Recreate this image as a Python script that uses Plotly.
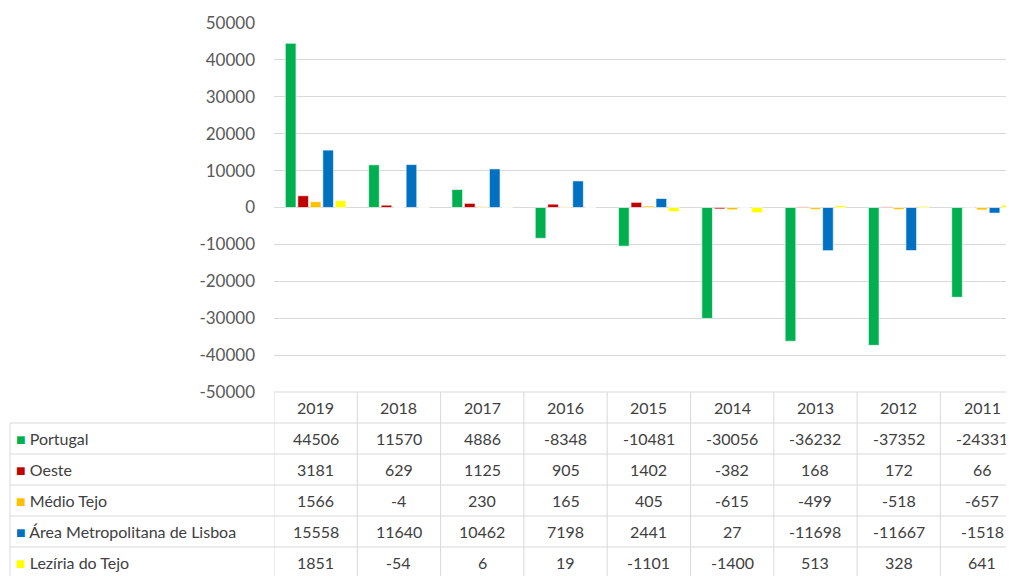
import plotly.graph_objects as go

years = ['2019', '2018', '2017', '2016', '2015', '2014', '2013', '2012', '2011']
series_names = ['Portugal', 'Oeste', 'Médio Tejo', 'Área Metropolitana de Lisboa', 'Lezíria do Tejo']
portugal = [44506, 11570, 4886, -8348, -10481, -30056, -36232, -37352, -24331]
oeste = [3181, 629, 1125, 905, 1402, -382, 168, 172, 66]
medio_tejo = [1566, -4, 230, 165, 405, -615, -499, -518, -657]
aml = [15558, 11640, 10462, 7198, 2441, 27, -11698, -11667, -1518]
leziria = [1851, -54, 6, 19, -1101, -1400, 513, 328, 641]
colors = ['#00B050', '#C00000', '#FFC000', '#0070C0', '#FFFF00']
y_ticks = [50000, 40000, 30000, 20000, 10000, 0, -10000, -20000, -30000, -40000, -50000]

all_series = [portugal, oeste, medio_tejo, aml, leziria]

W, H = 1006, 568      # visible area after the page's 8px body margin
OFF = 8
col_w = 83.3
x_left = 274 - OFF

def py(page_px):
    return 1 - (page_px - OFF) / H

def pxx(page_px):
    return (page_px - OFF) / W

fig = go.Figure()
for name, vals, c in zip(series_names, all_series, colors):
    fig.add_trace(go.Bar(x=list(range(len(years))), y=vals, name=name,
                         marker=dict(color=c, line=dict(color='white', width=0.6))))

font_fam = 'Lato, Liberation Sans, sans-serif'
text_col = '#404040'
line_col = '#D9D9D9'

shapes = []
annotations = []
header_top = 392
row_tops = [423, 454, 485, 516, 547]
row_h = 31
bottom = 580

shapes.append(dict(type='line', xref='paper', yref='paper', x0=pxx(274), x1=1,
                   y0=py(header_top), y1=py(header_top), line=dict(color=line_col, width=1)))
for rt in row_tops:
    shapes.append(dict(type='line', xref='paper', yref='paper', x0=pxx(10), x1=1,
                       y0=py(rt), y1=py(rt), line=dict(color=line_col, width=1)))
shapes.append(dict(type='line', xref='paper', yref='paper', x0=pxx(10), x1=pxx(10),
                   y0=py(row_tops[0]), y1=py(bottom), line=dict(color=line_col, width=1)))
for j in range(len(years) + 1):
    xv = j - 0.5
    shapes.append(dict(type='line', xref='x', yref='paper', x0=xv, x1=xv,
                       y0=py(header_top), y1=py(bottom), line=dict(color=line_col, width=1)))

for j, yr in enumerate(years):
    annotations.append(dict(x=j, y=py(header_top + row_h / 2), xref='x', yref='paper',
                            text=yr, showarrow=False, xanchor='center', yanchor='middle',
                            font=dict(family=font_fam, size=16, color=text_col)))
for i, (name, vals, c) in enumerate(zip(series_names, all_series, colors)):
    yc = py(row_tops[i] + row_h / 2)
    annotations.append(dict(x=pxx(14), y=yc, xref='paper', yref='paper',
                            text=f"<span style='color:{c}'>■</span> {name}",
                            showarrow=False, xanchor='left', yanchor='middle',
                            font=dict(family=font_fam, size=16, color=text_col)))
    for j, v in enumerate(vals):
        annotations.append(dict(x=j, y=yc, xref='x', yref='paper', text=str(v),
                                showarrow=False, xanchor='center', yanchor='middle',
                                font=dict(family=font_fam, size=16, color=text_col)))

fig.update_layout(
    template='none',
    width=W, height=H,
    margin=dict(l=0, r=0, t=0, b=0, autoexpand=False),
    paper_bgcolor='white', plot_bgcolor='white',
    barmode='group', bargap=0.25, bargroupgap=0.15,
    showlegend=False,
    shapes=shapes, annotations=annotations,
    xaxis=dict(domain=[pxx(274), 1], range=[-0.5, -0.5 + (1014 - 274) / col_w],
               showticklabels=False, showgrid=False, zeroline=False, showline=False,
               automargin=False, fixedrange=True),
    yaxis=dict(domain=[py(header_top), py(23)], range=[-50000, 50000],
               tickvals=y_ticks, ticktext=[str(v) for v in y_ticks],
               showgrid=True, gridcolor=line_col, gridwidth=1,
               zeroline=True, zerolinecolor=line_col, zerolinewidth=1,
               showline=False, ticks='', ticklabelstandoff=18, automargin=False,
               tickfont=dict(family=font_fam, size=17, color='#595959')),
)

fig.write_html('out.html')
